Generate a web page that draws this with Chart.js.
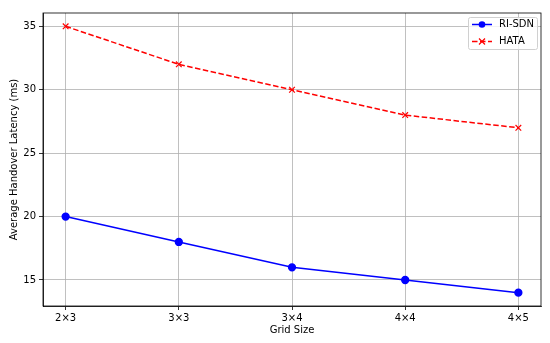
<!DOCTYPE html>
<html><head><meta charset="utf-8">
<script src="https://cdn.jsdelivr.net/npm/chart.js@4"></script>
<style>html,body{margin:0;padding:0;background:#fff}#wrap{width:550px;height:343px}</style>
</head><body><div id="wrap"><canvas id="c" width="550" height="343"></canvas></div>
<script>
const categories = ["2\u00d73","3\u00d73","3\u00d74","4\u00d74","4\u00d75"];
const riSdn = [20, 18, 16, 15, 14];
const hata = [35, 32, 30, 28, 27];
const yTicks = [15, 20, 25, 30, 35];

const FONT = "'DejaVu Sans', sans-serif";
const pts = arr => arr.map((v,i)=>({x:i,y:v}));

const framePlugin = {
  id:'frame',
  afterDatasetsDraw(chart){
    const {ctx, chartArea:a} = chart;
    ctx.save();
    ctx.strokeStyle='#000'; ctx.lineWidth=0.8;
    ctx.strokeRect(a.left, a.top, a.right-a.left, a.bottom-a.top);
    // legend
    const bx=468.5, by=17.5, bw=69, bh=32;
    ctx.fillStyle='rgba(255,255,255,0.8)';
    ctx.strokeStyle='#d0d0d0'; ctx.lineWidth=1;
    ctx.beginPath(); ctx.roundRect(bx,by,bw,bh,2); ctx.fill(); ctx.stroke();
    const rows=[{ds:chart.data.datasets[0],y:24.5},{ds:chart.data.datasets[1],y:41.5}];
    rows.forEach(r=>{
      ctx.strokeStyle=r.ds.borderColor; ctx.lineWidth=1.5;
      ctx.setLineDash(r.ds.borderDash||[]);
      ctx.beginPath(); ctx.moveTo(472,r.y); ctx.lineTo(492,r.y); ctx.stroke();
      ctx.setLineDash([]);
      if(r.ds.pointStyle==='circle'){
        ctx.fillStyle=r.ds.borderColor; ctx.beginPath(); ctx.arc(482,r.y,3.3,0,Math.PI*2); ctx.fill();
      } else {
        ctx.lineWidth=1.2;
        ctx.beginPath(); ctx.moveTo(479,r.y-3); ctx.lineTo(485,r.y+3); ctx.moveTo(485,r.y-3); ctx.lineTo(479,r.y+3); ctx.stroke();
      }
      ctx.fillStyle='#000'; ctx.font='10px '+FONT; ctx.textBaseline='middle'; ctx.textAlign='left';
      ctx.fillText(r.ds.label, 499, r.y);
    });
    ctx.restore();
  }
};

new Chart(document.getElementById('c'), {
  type:'line',
  data:{datasets:[
    {label:'RI-SDN', data:pts(riSdn), borderColor:'#0000ff', backgroundColor:'#0000ff', borderWidth:1.5,
     pointStyle:'circle', pointRadius:3.4, pointHoverRadius:3.4, tension:0},
    {label:'HATA', data:pts(hata), borderColor:'#ff0000', backgroundColor:'#ff0000', borderWidth:1.5, borderDash:[5.5,2.5],
     pointStyle:'crossRot', pointRadius:4, pointHoverRadius:4, pointBorderWidth:1.2, tension:0}
  ]},
  options:{
    responsive:false, animation:false, devicePixelRatio:1,
    layout:{padding:{top:13,right:9,left:0,bottom:0}},
    plugins:{legend:{display:false}, tooltip:{enabled:false}},
    scales:{
      x:{type:'linear', min:-0.2, max:4.2,
        afterBuildTicks(s){s.ticks=categories.map((c,i)=>({value:i}));},
        afterFit(s){s.height=37;},
        ticks:{callback:(v)=>categories[v]??'', color:'#000', font:{family:FONT,size:10}, padding:2, maxRotation:0, autoSkip:false},
        grid:{color:'#b0b0b0', lineWidth:0.8, tickLength:4, tickColor:'#000'},
        border:{color:'#000', width:0.8},
        title:{display:true, text:'Grid Size', color:'#000', font:{family:FONT,size:10}, padding:{top:2,bottom:6.5}}
      },
      y:{min:12.95, max:36.05,
        afterBuildTicks(s){s.ticks=yTicks.map(v=>({value:v}));},
        afterFit(s){s.width=43;},
        ticks:{color:'#000', font:{family:FONT,size:10}, padding:3},
        grid:{color:'#b0b0b0', lineWidth:0.8, tickLength:4, tickColor:'#000'},
        border:{color:'#000', width:0.8},
        title:{display:true, text:'Average Handover Latency (ms)', color:'#000', font:{family:FONT,size:10}, padding:{top:8,bottom:0}}
      }
    }
  },
  plugins:[framePlugin]
});
</script></body></html>
